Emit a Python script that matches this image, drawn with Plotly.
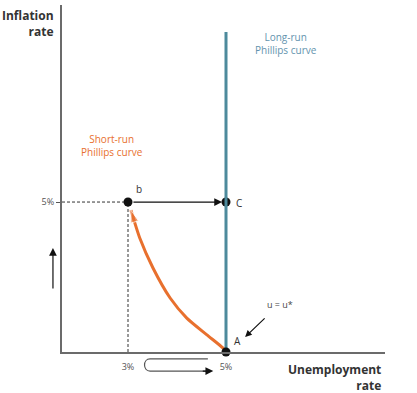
import plotly.graph_objects as go

# ---- data ----
srpc_x = [5.0, 4.94, 4.61, 4.20, 3.86, 3.51, 3.24, 3.06]   # unemployment %
srpc_y = [0.0, 0.13, 0.57, 1.13, 1.80, 2.80, 3.80, 4.73]   # inflation %
lrpc_x = [5.0, 5.0]
lrpc_y = [0.0, 10.67]
natural_u = 5.0
point_b = (3.0, 5.0)
point_c = (5.0, 5.0)
point_a = (5.0, 0.0)
x_tickvals = [3, 5]
x_ticktext = ["3%", "5%"]
y_tickvals = [5]
y_ticktext = ["5%"]

X_RANGE = [1.653, 8.245]
Y_RANGE = [0, 11.57]

ORANGE = "#E8702E"
TEAL = "#4D8A9C"
TEAL_TXT = "#6393AE"
AXIS = "#6b6b6b"
FONT = "Open Sans"

fig = go.Figure()

# dashed guides to b
fig.add_trace(go.Scatter(x=[X_RANGE[0], point_b[0]], y=[point_b[1], point_b[1]], mode="lines",
                         line=dict(color="#333", width=1, dash="3px,2px"), hoverinfo="skip"))
fig.add_trace(go.Scatter(x=[point_b[0], point_b[0]], y=[0, point_b[1]], mode="lines",
                         line=dict(color="#333", width=1, dash="3px,2px"), hoverinfo="skip"))

# C dot (behind LRPC line)
fig.add_trace(go.Scatter(x=[point_c[0]], y=[point_c[1]], mode="markers",
                         marker=dict(color="#111", size=9), hoverinfo="skip"))

# short-run Phillips curve with arrow
n = len(srpc_x)
fig.add_trace(go.Scatter(x=srpc_x, y=srpc_y, mode="lines+markers",
                         line=dict(color=ORANGE, width=3, shape="spline", smoothing=0.6),
                         marker=dict(symbol="arrow", angleref="previous",
                                     size=[0] * (n - 1) + [13], color=ORANGE),
                         hoverinfo="skip"))

# long-run Phillips curve
fig.add_trace(go.Scatter(x=lrpc_x, y=lrpc_y, mode="lines",
                         line=dict(color=TEAL, width=3), hoverinfo="skip"))

# A and b dots
fig.add_trace(go.Scatter(x=[point_a[0], point_b[0]], y=[point_a[1], point_b[1]], mode="markers",
                         marker=dict(color="#111", size=9), hoverinfo="skip", cliponaxis=False))

annotations = []
# b -> C arrow
annotations.append(dict(x=point_c[0] - 0.08, y=point_c[1], ax=point_b[0] + 0.08, ay=point_b[1],
                        xref="x", yref="y", axref="x", ayref="y", text="", showarrow=True,
                        arrowhead=2, arrowsize=1.3, arrowwidth=1.2, arrowcolor="#111"))
# u = u* arrow
annotations.append(dict(x=natural_u + 0.39, y=0.5, xref="x", yref="y", ax=21, ay=-20,
                        text="", showarrow=True, arrowhead=2, arrowsize=1.1,
                        arrowwidth=1.2, arrowcolor="#111"))
annotations.append(dict(x=6.10, y=1.57, xref="x", yref="y", text="u = u*", showarrow=False,
                        font=dict(family=FONT, size=9, color="#444")))
# point labels
annotations.append(dict(x=3.22, y=5.42, xref="x", yref="y", text="b", showarrow=False,
                        font=dict(family=FONT, size=10, color="#333")))
annotations.append(dict(x=5.27, y=4.97, xref="x", yref="y", text="C", showarrow=False,
                        font=dict(family=FONT, size=10, color="#333")))
annotations.append(dict(x=5.24, y=0.37, xref="x", yref="y", text="A", showarrow=False,
                        font=dict(family=FONT, size=10, color="#333")))
# curve labels
annotations.append(dict(x=6.22, y=10.27, xref="x", yref="y", text="Long-run<br>Phillips curve",
                        showarrow=False, font=dict(family=FONT, size=10, color=TEAL_TXT)))
annotations.append(dict(x=2.67, y=6.87, xref="x", yref="y", text="Short-run<br>Phillips curve",
                        showarrow=False, font=dict(family=FONT, size=10, color=ORANGE)))
# axis titles
annotations.append(dict(x=-0.019, y=1.0, xref="paper", yref="paper", xanchor="right", yanchor="top",
                        align="right", text="<b>Inflation<br>rate</b>", showarrow=False,
                        font=dict(family=FONT, size=12, color="#333")))
annotations.append(dict(x=0.994, y=-0.02, xref="paper", yref="paper", xanchor="right", yanchor="top",
                        align="right", text="<b>Unemployment<br>rate</b>", showarrow=False,
                        font=dict(family=FONT, size=12, color="#333")))
# up arrow left of y axis
annotations.append(dict(x=-0.028, y=0.300, xref="paper", yref="paper", ax=0, ay=42,
                        text="", showarrow=True, arrowhead=2, arrowsize=1.3,
                        arrowwidth=1.2, arrowcolor="#111"))
# arrowhead of the loop arrow under x axis
annotations.append(dict(x=4.74, y=-0.055, xref="x", yref="paper", ax=-12, ay=0,
                        text="", showarrow=True, arrowhead=2, arrowsize=1.3,
                        arrowwidth=1.2, arrowcolor="#111"))

shapes = [dict(type="path", xref="x", yref="paper",
               path="M 4.63,-0.020 L 3.45,-0.020 C 3.30,-0.020 3.30,-0.055 3.45,-0.055 L 4.62,-0.055",
               line=dict(color="#555", width=1.2))]

fig.update_layout(
    width=417, height=393,
    margin=dict(l=62, r=32, t=5, b=41),
    paper_bgcolor="white", plot_bgcolor="white",
    showlegend=False,
    annotations=annotations, shapes=shapes,
    xaxis=dict(range=X_RANGE, showgrid=False, zeroline=False, showline=True,
               linecolor=AXIS, linewidth=2, tickvals=x_tickvals, ticktext=x_ticktext,
               ticks="", ticklabelstandoff=5,
               tickfont=dict(family=FONT, size=9, color="#555"), fixedrange=True),
    yaxis=dict(range=Y_RANGE, showgrid=False, zeroline=False, showline=True,
               linecolor=AXIS, linewidth=2, tickvals=y_tickvals, ticktext=y_ticktext,
               ticks="outside", ticklen=4, tickcolor="#555",
               tickfont=dict(family=FONT, size=9, color="#555"), fixedrange=True),
)

fig.write_html("out.html", config={"displayModeBar": False},
               post_script="document.body.style.margin='0';")
